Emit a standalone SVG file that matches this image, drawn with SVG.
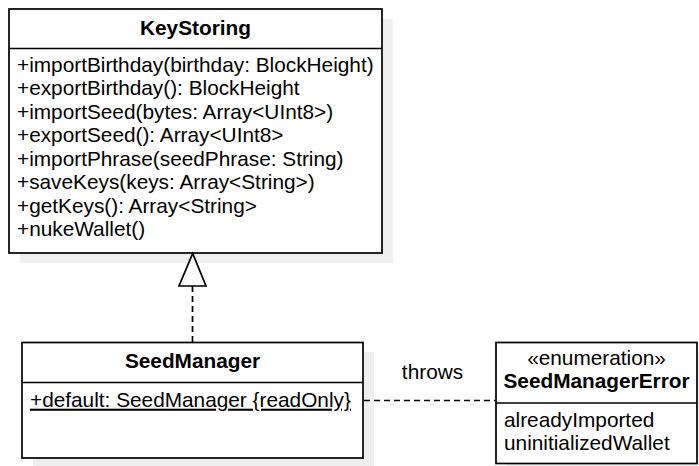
<svg xmlns="http://www.w3.org/2000/svg" width="699" height="466" viewBox="0 0 699 466">
<style>
.box{fill:#ffffff;stroke:#000000;stroke-width:1.7}
.shadow{fill:#efefef;stroke:none}
.div{stroke:#000000;stroke-width:1.7}
text{font-family:"Liberation Sans",Arial,sans-serif;font-size:20.8px;fill:#000000}
.b{font-weight:bold}
.c{text-anchor:middle}
.dash{fill:none;stroke:#000000;stroke-width:1.7;stroke-dasharray:6 4}
</style>
<rect width="699" height="466" fill="#ffffff"/>
<g id="KeyStoring">
<rect class="shadow" x="20" y="19" width="373" height="244"/>
<rect class="box" x="9" y="9" width="373" height="244"/>
<line class="div" x1="9" y1="48.5" x2="382" y2="48.5"/>
<text class="b c" x="195.5" y="34.5">KeyStoring</text>
<text x="17" y="71.5">+importBirthday(birthday: BlockHeight)</text>
<text x="17" y="95">+exportBirthday(): BlockHeight</text>
<text x="17" y="118.5">+importSeed(bytes: Array&lt;UInt8&gt;)</text>
<text x="17" y="142">+exportSeed(): Array&lt;UInt8&gt;</text>
<text x="17" y="165.5">+importPhrase(seedPhrase: String)</text>
<text x="17" y="189">+saveKeys(keys: Array&lt;String&gt;)</text>
<text x="17" y="212.5">+getKeys(): Array&lt;String&gt;</text>
<text x="17" y="236">+nukeWallet()</text>
</g>
<g id="SeedManager">
<rect class="shadow" x="33" y="352" width="341" height="116"/>
<rect class="box" x="22" y="342.5" width="341" height="115.5"/>
<line class="div" x1="22" y1="382.5" x2="363" y2="382.5"/>
<text class="b c" x="192.5" y="368.3">SeedManager</text>
<text x="30" y="406.7" text-decoration="underline">+default: SeedManager {readOnly}</text>
</g>
<g id="SeedManagerError">
<rect class="shadow" x="507" y="352" width="201" height="121"/>
<rect class="box" x="496" y="342.5" width="201" height="121"/>
<line class="div" x1="496" y1="403" x2="697" y2="403"/>
<text class="c" x="596.5" y="364.8">«enumeration»</text>
<text class="b c" x="596.5" y="388.3">SeedManagerError</text>
<text x="504" y="426.8">alreadyImported</text>
<text x="504" y="450">uninitializedWallet</text>
</g>
<g id="connectors">
<line class="dash" x1="192.5" y1="286" x2="192.5" y2="342"/>
<polygon points="192.7,253.5 179,286 206,286" fill="#ffffff" stroke="#000000" stroke-width="1.7" stroke-linejoin="miter"/>
<line class="dash" x1="364" y1="400.5" x2="495" y2="400.5"/>
<text class="c" x="432.5" y="379.3">throws</text>
</g>
</svg>
